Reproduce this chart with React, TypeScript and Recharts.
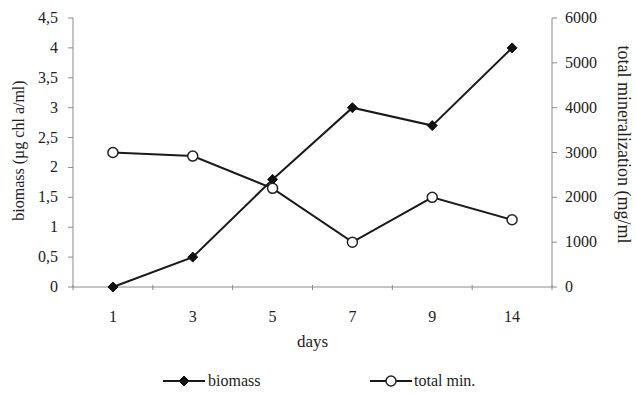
import React from 'react';
import { LineChart, Line, XAxis, YAxis } from 'recharts';

const days = ['1', '3', '5', '7', '9', '14'];
const biomass = [0, 0.5, 1.8, 3.0, 2.7, 4.0];
const totalMin = [3000, 2920, 2200, 1000, 2000, 1500];
const leftTicks = [0, 0.5, 1, 1.5, 2, 2.5, 3, 3.5, 4, 4.5];
const rightTicks = [0, 1000, 2000, 3000, 4000, 5000, 6000];

const data = days.map((d, i) => ({ day: d, biomass: biomass[i], totalMin: totalMin[i] }));

const W = 636;
const H = 394;
const PLOT_LEFT = 73;
const PLOT_RIGHT = 552;
const FONT = 'Liberation Serif, DejaVu Serif, serif';
const INK = '#222';
const AXIS = '#8a8a8a';
const TXT = { fontFamily: FONT };

const halfBand = (PLOT_RIGHT - PLOT_LEFT) / days.length / 2;

const DayTick = (props: any) => {
  const { x, y, payload, index } = props;
  const last = index === days.length - 1;
  return (
    <g>
      <line x1={x - halfBand} y1={y - 2} x2={x - halfBand} y2={y + 3} stroke={AXIS} />
      {last && <line x1={x + halfBand} y1={y - 2} x2={x + halfBand} y2={y + 3} stroke={AXIS} />}
      <text x={x} y={y + 35} textAnchor="middle" style={TXT} fontSize={16} fill={INK}>
        {payload.value}
      </text>
    </g>
  );
};

const ValueTick = (props: any) => {
  const { x, y, payload, textAnchor, fmt } = props;
  const label = fmt ? fmt(payload.value) : String(payload.value);
  return (
    <text x={x} y={y} dy={5} textAnchor={textAnchor} style={TXT} fontSize={16} fill={INK}>
      {label}
    </text>
  );
};

const Diamond = (props: any) => {
  const { cx, cy } = props;
  if (cx == null || cy == null) return null;
  const r = 5;
  return <polygon points={`${cx},${cy - r} ${cx + r},${cy} ${cx},${cy + r} ${cx - r},${cy}`} fill="#111" stroke="#111" />;
};

const Ring = (props: any) => {
  const { cx, cy } = props;
  if (cx == null || cy == null) return null;
  return <circle cx={cx} cy={cy} r={5} fill="#fff" stroke="#222" strokeWidth={1.5} />;
};

const LeftTitle = (props: any) => {
  const vb = props.viewBox;
  const cy = vb.y + vb.height / 2 - 2;
  return (
    <text x={18} y={cy} transform={`rotate(-90, 18, ${cy})`} textAnchor="middle" dominantBaseline="central"
      style={TXT} fontSize={16} fill={INK}>
      biomass (µg chl a/ml)
    </text>
  );
};

const RightTitle = (props: any) => {
  const vb = props.viewBox;
  const cy = vb.y + vb.height / 2 - 8;
  return (
    <text x={624} y={cy} transform={`rotate(90, 624, ${cy})`} textAnchor="middle" dominantBaseline="central"
      style={TXT} fontSize={18} fill={INK}>
      total mineralization (mg/ml
    </text>
  );
};

const fmtComma = (v: number) => String(v).replace('.', ',');

export default function App() {
  return (
    <div style={{ position: 'absolute', left: 0, top: 0, width: W, height: H, background: '#fff', fontFamily: FONT }}>
      <LineChart
        width={W}
        height={H}
        data={data}
        margin={{ top: 18, right: 24, left: 13, bottom: 77 }}
      >
        <XAxis
          dataKey="day"
          scale="band"
          height={30}
          stroke={AXIS}
          tickLine={false}
          tickSize={0}
          tickMargin={0}
          tick={<DayTick />}
          interval={0}
        />
        <YAxis
          yAxisId="left"
          width={60}
          domain={[0, 4.5]}
          ticks={leftTicks}
          stroke={AXIS}
          tickSize={5}
          tickMargin={10}
          tick={<ValueTick fmt={fmtComma} />}
          interval={0}
          label={<LeftTitle />}
        />
        <YAxis
          yAxisId="right"
          orientation="right"
          width={60}
          domain={[0, 6000]}
          ticks={rightTicks}
          stroke={AXIS}
          tickSize={5}
          tickMargin={8}
          tick={<ValueTick />}
          interval={0}
          label={<RightTitle />}
        />
        <Line yAxisId="left" dataKey="biomass" stroke="#1a1a1a" strokeWidth={2} dot={<Diamond />} activeDot={false} isAnimationActive={false} />
        <Line yAxisId="right" dataKey="totalMin" stroke="#1a1a1a" strokeWidth={2} dot={<Ring />} activeDot={false} isAnimationActive={false} />
      </LineChart>
      <div style={{ position: 'absolute', left: 297, top: 332, fontFamily: FONT, fontSize: 17, color: INK }}>days</div>
      <svg style={{ position: 'absolute', left: 0, top: 368 }} width={W} height={26}>
        <line x1={163} y1={13} x2={205} y2={13} stroke="#1a1a1a" strokeWidth={2} />
        <Diamond cx={184} cy={13} />
        <text x={208} y={18} style={TXT} fontSize={16} fill={INK}>biomass</text>
        <line x1={370} y1={13} x2={412} y2={13} stroke="#1a1a1a" strokeWidth={2} />
        <Ring cx={391} cy={13} />
        <text x={414} y={18} style={TXT} fontSize={16} fill={INK}>total min.</text>
      </svg>
    </div>
  );
}
